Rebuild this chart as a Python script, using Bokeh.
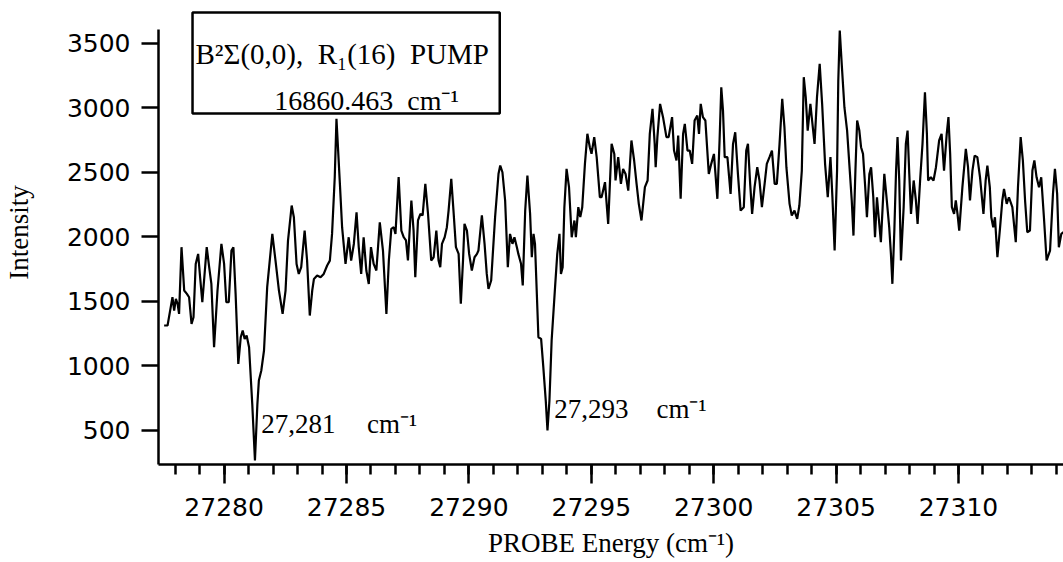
from bokeh.plotting import figure
from bokeh.models import Range1d, SingleIntervalTicker, Label, BoxAnnotation
from bokeh.embed import file_html
from bokeh.resources import INLINE

# ---- data (PROBE energy in cm^-1, intensity) ----
probe_energy = [
    27277.55, 27277.69, 27277.82, 27277.89, 27277.96, 27278.03, 27278.10, 27278.16, 27278.26, 27278.37,
    27278.48, 27278.57, 27278.67, 27278.75, 27278.84, 27278.94, 27279.02, 27279.11, 27279.29, 27279.39,
    27279.48, 27279.59, 27279.73, 27279.89, 27280.00, 27280.09, 27280.19, 27280.30, 27280.38, 27280.47,
    27280.58, 27280.68, 27280.76, 27280.84, 27280.92, 27281.02, 27281.15, 27281.26, 27281.36, 27281.42,
    27281.52, 27281.63, 27281.76, 27281.97, 27282.10, 27282.24, 27282.39, 27282.51, 27282.61, 27282.76,
    27282.85, 27282.96, 27283.05, 27283.15, 27283.29, 27283.39, 27283.50, 27283.60, 27283.67, 27283.80,
    27283.94, 27284.07, 27284.21, 27284.32, 27284.41, 27284.52, 27284.59, 27284.73, 27284.82, 27284.96,
    27285.09, 27285.19, 27285.30, 27285.41, 27285.50, 27285.60, 27285.70, 27285.81, 27285.91, 27286.00,
    27286.11, 27286.22, 27286.36, 27286.49, 27286.63,
    27286.73, 27286.83, 27286.93, 27287.00, 27287.13, 27287.24, 27287.34, 27287.43, 27287.51, 27287.65,
    27287.74, 27287.81, 27287.92, 27288.02, 27288.11, 27288.22, 27288.33, 27288.46, 27288.56, 27288.67,
    27288.76, 27288.83, 27288.90, 27289.01, 27289.10, 27289.17, 27289.28, 27289.37, 27289.47, 27289.58,
    27289.67, 27289.76, 27289.82, 27289.92, 27290.01, 27290.12, 27290.23, 27290.33, 27290.39, 27290.53,
    27290.64, 27290.73, 27290.80, 27290.91, 27291.07, 27291.21, 27291.28, 27291.37, 27291.48, 27291.59,
    27291.68, 27291.78, 27291.86, 27291.96, 27292.02, 27292.13, 27292.20, 27292.30, 27292.39, 27292.50,
    27292.57, 27292.64, 27292.70, 27292.77, 27292.84, 27292.95, 27293.04, 27293.14, 27293.21, 27293.29,
    27293.38, 27293.52, 27293.61, 27293.70, 27293.76, 27293.83, 27293.90, 27293.99, 27294.09, 27294.20,
    27294.31, 27294.37, 27294.47, 27294.55, 27294.63, 27294.74, 27294.84, 27294.94, 27295.01, 27295.12,
    27295.22, 27295.35,
    27295.42, 27295.56, 27295.69, 27295.83, 27295.94, 27295.99, 27296.10, 27296.21, 27296.30, 27296.40,
    27296.51, 27296.64, 27296.75, 27296.85, 27296.94, 27297.05, 27297.19, 27297.30, 27297.39, 27297.50,
    27297.59, 27297.63, 27297.70, 27297.81, 27297.93, 27298.07, 27298.16, 27298.30, 27298.38, 27298.48,
    27298.55, 27298.65, 27298.75, 27298.82, 27298.93, 27299.02, 27299.12, 27299.22, 27299.33, 27299.40,
    27299.47, 27299.56, 27299.66, 27299.80, 27299.90, 27300.01, 27300.15, 27300.24, 27300.31, 27300.38,
    27300.45, 27300.56, 27300.69, 27300.79, 27300.88, 27300.99, 27301.10, 27301.23, 27301.33, 27301.40,
    27301.49, 27301.57, 27301.67, 27301.78, 27301.87, 27301.97, 27302.08, 27302.17, 27302.28, 27302.38,
    27302.49, 27302.58, 27302.69, 27302.80, 27302.89, 27302.97, 27303.10, 27303.19, 27303.30, 27303.41,
    27303.50, 27303.60, 27303.68, 27303.76, 27303.84, 27303.95, 27304.02, 27304.12, 27304.22, 27304.33,
    27304.43, 27304.55, 27304.66, 27304.77, 27304.85, 27304.94, 27305.04, 27305.09, 27305.15,
    27305.23, 27305.34, 27305.45, 27305.54, 27305.64, 27305.71, 27305.79, 27305.86, 27305.95, 27306.02,
    27306.10, 27306.19, 27306.26, 27306.36, 27306.43, 27306.52, 27306.59, 27306.67, 27306.74, 27306.83,
    27306.97, 27307.06, 27307.17, 27307.24, 27307.30, 27307.38, 27307.45, 27307.51, 27307.58, 27307.65,
    27307.76, 27307.85, 27307.92, 27307.99, 27308.06, 27308.17, 27308.26, 27308.33, 27308.44, 27308.53,
    27308.63, 27308.71, 27308.76, 27308.87, 27308.98, 27309.08, 27309.21, 27309.31, 27309.41, 27309.52,
    27309.59, 27309.66, 27309.73, 27309.82, 27309.89, 27309.96, 27310.03, 27310.16, 27310.30, 27310.39,
    27310.47, 27310.57, 27310.66, 27310.77, 27310.88, 27311.02, 27311.11, 27311.18, 27311.28, 27311.34,
    27311.42, 27311.49, 27311.59, 27311.70, 27311.79, 27311.86, 27311.97, 27312.06, 27312.20, 27312.34,
    27312.43, 27312.54, 27312.63, 27312.72, 27312.81, 27312.92, 27313.02, 27313.10, 27313.19, 27313.29,
    27313.38, 27313.49, 27313.60, 27313.74, 27313.86, 27313.94, 27314.03, 27314.10, 27314.20, 27314.29,
]

intensity = [
    1314, 1314, 1456, 1533, 1430, 1520, 1481, 1404, 1921, 1585,
    1559, 1533, 1326, 1378, 1791, 1869, 1688, 1494, 1921, 1766,
    1636, 1145, 1585, 1946, 1791, 1494, 1494, 1895, 1921, 1559,
    1016, 1223, 1275, 1210, 1236, 1145, 706, 267, 706, 887,
    965, 1120, 1611, 2024, 1817, 1585, 1404, 1585, 1972, 2244,
    2153, 1791, 1714, 1766, 2050, 1817, 1391, 1585, 1675, 1701,
    1688, 1714, 1779, 1817, 2024, 2463, 2916, 2412, 2076, 1791,
    1998, 1817, 1946, 2192, 1921, 1714, 1998, 1740, 1636, 1921,
    1791, 1740, 2114, 1895, 1404,
    1818, 2063, 2076, 2024, 2464, 2050, 1998, 1973, 1818, 2283,
    2050, 1688, 2128, 2180, 2167, 2412, 2180, 1818, 1843, 2050,
    1818, 1766, 1947, 1998, 2076, 2205, 2451, 2205, 1921, 1869,
    1482, 1818, 2102, 2050, 1869, 1740, 1843, 1869, 1895, 2167,
    1947, 1714, 1598, 1663, 2154, 2490, 2554, 2502, 2283, 1766,
    2024, 1947, 1998, 1921, 1869, 1792, 1624, 2205, 2477, 2180,
    1843, 2024, 1947, 1585, 1223, 1210, 991, 732, 500, 732,
    1198, 1611, 1869, 2024, 1714, 1766, 2231, 2528, 2386, 1998,
    2128, 1998, 2231, 2154, 2231, 2567, 2800, 2696, 2645, 2774,
    2619, 2309,
    2308, 2425, 2102, 2722, 2644, 2438, 2619, 2412, 2528, 2489,
    2360, 2748, 2593, 2412, 2257, 2128, 2386, 2438, 2799, 2993,
    2722, 2541, 2774, 3032, 2929, 2774, 2774, 2929, 2670, 2593,
    2786, 2296, 2799, 2877, 2670, 2670, 2567, 2903, 2942, 2799,
    3032, 2929, 2903, 2489, 2567, 2644, 2296, 2748, 3161, 2980,
    2619, 2619, 2334, 2722, 2812, 2489, 2205, 2231, 2670, 2722,
    2412, 2179, 2386, 2541, 2438, 2231, 2412, 2567, 2619, 2670,
    2412, 2412, 2722, 3071, 2851, 2541, 2257, 2166, 2205, 2140,
    2244, 2515, 3239, 3084, 2825, 3032, 2903, 2722, 3084, 3342,
    3032, 2567, 2308, 2619, 2308, 1895, 2515, 3213, 3600,
    3342, 3006, 2825, 2567, 2283, 2011, 2515, 2903, 2825, 2696,
    2644, 2386, 2153, 2489, 2541, 2308, 1998, 2308, 2153, 1960,
    2489, 2308, 2076, 1869, 1637, 2050, 2515, 2774, 2438, 1818,
    2231, 2722, 2825, 2489, 2179, 2438, 2283, 2102, 2463, 2722,
    3122, 2799, 2438, 2463, 2438, 2541, 2748, 2799, 2515, 2799,
    2929, 2644, 2231, 2179, 2283, 2179, 2050, 2386, 2683, 2541,
    2283, 2515, 2631, 2619, 2463, 2179, 2438, 2554, 2386, 2153,
    2076, 2153, 1843, 2076, 2283, 2373, 2257, 2308, 2231, 1960,
    2386, 2774, 2593, 2283, 2037, 2050, 2515, 2593, 2463, 2386,
    2463, 2153, 1818, 1895, 2334, 2528, 2334, 1921, 2024, 2037,
]

x_tick_step = 5       # major ticks 27280 ... 27310, minor every 1
y_tick_step = 500     # 500 ... 3500

x_title = "PROBE Energy (cm⁻¹)"
y_title = "Intensity"

SERIF = "Liberation Serif"
SANS = "DejaVu Sans"

p = figure(
    width=1063, height=562,
    x_range=Range1d(27277.32, 27314.29),
    y_range=Range1d(236.4, 3833.3),
    output_backend="svg", toolbar_location=None,
    min_border_left=156, min_border_right=0,
    min_border_top=0, min_border_bottom=98,
    background_fill_color="white", border_fill_color="white",
)
p.outline_line_color = None
p.xgrid.visible = False
p.ygrid.visible = False

# x axis
xa = p.xaxis[0]
xa.ticker = SingleIntervalTicker(interval=x_tick_step, num_minor_ticks=5)
xa.axis_line_width = 2.5
xa.axis_line_color = "black"
xa.major_tick_in = 0
xa.major_tick_out = 19
xa.minor_tick_in = 0
xa.minor_tick_out = 10
xa.major_tick_line_width = 2.5
xa.minor_tick_line_width = 2.5
xa.major_label_text_font = SANS
xa.major_label_text_font_size = "25px"
xa.major_label_text_color = "black"
xa.major_label_standoff = 14
xa.axis_label = x_title
xa.axis_label_text_font = SERIF
xa.axis_label_text_font_size = "27px"
xa.axis_label_text_font_style = "normal"
xa.axis_label_text_color = "black"
xa.axis_label_standoff = 9

# y axis
ya = p.yaxis[0]
ya.ticker = SingleIntervalTicker(interval=y_tick_step, num_minor_ticks=0)
ya.bounds = (236.4, 3608.5)
ya.axis_line_width = 2.5
ya.axis_line_color = "black"
ya.major_tick_in = 0
ya.major_tick_out = 17
ya.minor_tick_in = 0
ya.minor_tick_out = 0
ya.major_tick_line_width = 2.5
ya.major_label_text_font = SANS
ya.major_label_text_font_size = "25px"
ya.major_label_text_color = "black"
ya.major_label_standoff = 11
ya.axis_label = y_title
ya.axis_label_text_font = SERIF
ya.axis_label_text_font_size = "27px"
ya.axis_label_text_font_style = "normal"
ya.axis_label_text_color = "black"
ya.axis_label_standoff = 30

# the spectrum
p.line(probe_energy, intensity, line_color="black", line_width=2.2)

# annotation box with pump info
p.add_layout(BoxAnnotation(left=27278.71, right=27291.26, bottom=2957, top=3740,
                           fill_color="white", fill_alpha=1.0,
                           line_color="black", line_width=2.5, line_alpha=1.0))


def lab(x, y, text, size="27px", align="left"):
    p.add_layout(Label(x=x, y=y, text=text, text_font=SERIF, text_font_size=size,
                       text_color="black", text_align=align,
                       text_baseline="alphabetic"))


NB = "\u00a0"
lab(27278.83, 3422, "B²Σ(0,0)," + NB + NB + "R₁(16)" + NB + NB + "PUMP", size="29px")
lab(27282.05, 3058, "16860.463" + NB + NB + "cm⁻¹", size="28px")

lab(27281.52, 554, "27,281")
lab(27285.84, 554, "cm⁻¹")
lab(27293.49, 668, "27,293")
lab(27297.66, 668, "cm⁻¹")

open("out.html", "w").write(file_html(p, INLINE))
